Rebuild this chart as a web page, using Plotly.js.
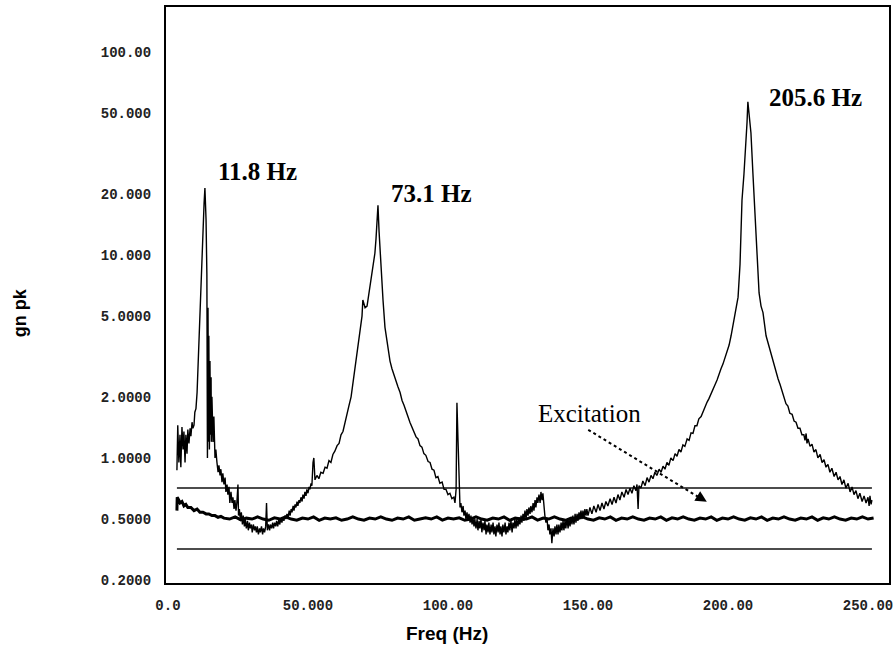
<!DOCTYPE html>
<html>
<head>
<meta charset="utf-8">
<script src="https://cdn.plot.ly/plotly-3.0.1.min.js"></script>
<style>html,body{margin:0;padding:0;background:#fff;}#chart{width:896px;height:646px;}</style>
</head>
<body>
<div id="chart"></div>
<script>
// Response spectrum, [freq Hz, g pk], read section by section
const respFirstMode = [[3.2,0.87],[3.5,1.45],[3.9,0.95],[4.3,1.3],[4.6,0.9],[5.0,1.42],[5.4,1.1],[5.7,1.35],[6.1,0.95],[6.4,1.3],[6.8,1.05],[7.1,1.38],[7.5,1.18],[7.9,1.4],[8.2,1.28],[8.6,1.5],[8.9,1.4],[9.3,1.45],[9.6,1.68],[10.0,1.75],[10.4,2.1],[10.7,2.8],[11.1,3.5],[11.4,5.0],[11.8,6.5],[12.1,9.0],[12.5,12.5],[12.9,18.0],[13.2,21.4],[13.6,15.0],[13.9,8.0],[14.1,1.0],[14.3,5.5],[14.5,1.2],[14.6,4.0],[14.8,1.1],[15.0,3.0],[15.2,1.3],[15.4,2.5],[15.5,1.2],[15.7,2.0],[16.1,1.2],[16.4,1.6],[16.8,1.0],[17.1,1.1]];
const respLowBand = [[17.5,0.95],[17.9,0.85],[18.2,0.92],[18.6,0.82],[18.9,0.88],[19.3,0.76],[19.6,0.84],[20.0,0.74],[20.4,0.8],[20.7,0.68],[21.1,0.74],[21.4,0.66],[21.8,0.72],[22.1,0.6],[22.5,0.68],[22.9,0.6],[23.2,0.64],[23.6,0.56],[23.9,0.62],[24.3,0.55],[24.6,0.6],[25.0,0.74],[25.2,0.52],[25.5,0.56],[25.9,0.49],[26.2,0.54],[26.6,0.47],[26.9,0.52],[27.3,0.46],[27.6,0.5],[28.0,0.45],[28.4,0.49],[28.7,0.44],[29.1,0.48],[29.4,0.45],[29.8,0.47],[30.1,0.43],[30.5,0.47],[30.9,0.44],[31.2,0.46],[31.6,0.43],[31.9,0.46],[32.3,0.42],[32.7,0.45],[33.0,0.43],[33.4,0.46],[33.8,0.42],[34.1,0.45],[34.5,0.43],[34.9,0.46],[35.2,0.6],[35.5,0.44],[35.9,0.47],[36.3,0.44],[36.6,0.47],[37.0,0.45],[37.4,0.48],[37.7,0.45],[38.1,0.48],[38.5,0.46],[38.8,0.49],[39.2,0.46],[39.6,0.5],[39.9,0.47],[40.3,0.5],[40.7,0.48],[41.0,0.51],[41.4,0.49],[41.8,0.52],[42.1,0.5],[42.5,0.53],[42.9,0.51],[43.3,0.55],[43.6,0.52],[44.0,0.56],[44.3,0.54],[44.7,0.58],[45.0,0.55],[45.4,0.59],[45.7,0.57],[46.1,0.61],[46.4,0.58],[46.8,0.62],[47.1,0.6],[47.5,0.64],[47.9,0.61],[48.2,0.66],[48.6,0.63],[48.9,0.68],[49.3,0.65],[49.6,0.7],[50.0,0.67],[50.4,0.72],[50.7,0.7],[51.1,0.75],[51.4,0.73],[51.8,0.95],[52.1,1.0],[52.5,0.78]];
const respSecondMode = [[53.2,0.82],[53.9,0.79],[54.6,0.85],[55.4,0.84],[56.1,0.9],[56.8,0.89],[57.5,0.97],[58.2,0.95],[58.9,1.04],[59.6,1.08],[60.4,1.15],[61.1,1.18],[61.8,1.3],[62.5,1.35],[63.2,1.5],[63.9,1.62],[64.6,1.8],[65.4,2.0],[66.1,2.35],[66.8,2.8],[67.5,3.2],[67.9,3.5],[68.6,4.1],[69.3,5.0],[69.6,6.0],[70.0,5.8],[70.4,5.5],[71.1,5.6],[71.8,6.5],[72.5,7.2],[73.2,8.5],[73.9,10.2],[74.3,12],[74.6,14.5],[75.0,17.6],[75.4,13],[75.7,10.6],[76.1,8.5],[76.8,6.0],[77.5,4.4],[78.6,3.4],[79.3,3.0],[80.0,2.75],[80.7,2.55],[81.4,2.4],[82.1,2.25],[82.9,2.1],[83.6,1.92],[84.3,1.82],[85.0,1.68],[85.7,1.6],[86.4,1.5],[87.1,1.42],[87.9,1.35],[88.6,1.27],[89.3,1.24],[90.0,1.15],[90.7,1.13],[91.4,1.05],[92.1,1.03],[92.9,0.96],[93.6,0.95],[94.3,0.88],[95.0,0.87],[95.7,0.8],[96.4,0.81],[97.1,0.75],[97.9,0.76],[98.6,0.7],[99.3,0.7],[100.0,0.66],[100.7,0.67],[101.4,0.63],[102.1,0.64],[102.5,0.6],[102.9,0.7],[103.2,1.87],[103.6,1.2],[103.9,0.75],[104.3,0.57]];
const respMidBand = [[104.6,0.6],[105.0,0.54],[105.4,0.58],[105.7,0.52],[106.1,0.55],[106.4,0.5],[106.8,0.54],[107.1,0.49],[107.5,0.53],[107.9,0.48],[108.2,0.52],[108.6,0.47],[108.9,0.51],[109.3,0.46],[109.6,0.5],[110.0,0.45],[110.4,0.5],[110.7,0.44],[111.1,0.49],[111.4,0.45],[111.8,0.5],[112.1,0.43],[112.5,0.48],[112.9,0.44],[113.2,0.49],[113.6,0.42],[113.9,0.47],[114.3,0.43],[114.6,0.48],[115.0,0.42],[115.4,0.47],[115.7,0.43],[116.1,0.48],[116.4,0.42],[116.8,0.46],[117.1,0.41],[117.5,0.47],[117.9,0.43],[118.2,0.48],[118.6,0.42],[118.9,0.46],[119.3,0.41],[119.6,0.47],[120.0,0.43],[120.4,0.48],[120.7,0.42],[121.1,0.46],[121.4,0.43],[121.8,0.48],[122.1,0.44],[122.5,0.49],[122.9,0.43],[123.2,0.48],[123.6,0.45],[123.9,0.5],[124.3,0.45],[124.6,0.5],[125.0,0.46],[125.4,0.51],[125.7,0.47],[126.1,0.52],[126.4,0.48],[126.8,0.53],[127.1,0.49],[127.5,0.55],[127.9,0.5],[128.2,0.56],[128.6,0.52],[128.9,0.57],[129.3,0.53],[129.6,0.58],[130.0,0.54],[130.4,0.6],[130.7,0.55],[131.1,0.62],[131.4,0.57],[131.8,0.64],[132.1,0.6],[132.5,0.66],[132.9,0.6],[133.2,0.68],[133.6,0.62],[133.9,0.67],[134.3,0.55],[134.6,0.52],[135.0,0.48],[135.4,0.5],[135.7,0.44],[136.1,0.47],[136.4,0.42],[136.8,0.45],[137.1,0.38],[137.5,0.45],[137.9,0.41],[138.2,0.46],[138.6,0.42],[138.9,0.47],[139.3,0.42],[139.6,0.47],[140.0,0.43],[140.4,0.48],[140.7,0.44],[141.1,0.49],[141.4,0.44],[141.8,0.49],[142.1,0.45],[142.5,0.5],[142.9,0.45],[143.2,0.5],[143.6,0.46],[143.9,0.51],[144.3,0.47],[144.6,0.52],[145.0,0.47],[145.4,0.53],[145.7,0.48],[146.1,0.53],[146.4,0.49],[146.8,0.54],[147.1,0.5],[147.5,0.55],[147.9,0.5],[148.2,0.55],[148.6,0.51],[148.9,0.56],[149.3,0.52],[149.6,0.56],[150.0,0.52]];
const respThirdMode = [[150.7,0.57],[151.4,0.53],[152.1,0.58],[152.9,0.54],[153.6,0.59],[154.3,0.55],[155.0,0.6],[155.7,0.56],[156.4,0.61],[157.1,0.58],[157.9,0.63],[158.6,0.59],[159.3,0.64],[160.0,0.6],[160.7,0.66],[161.4,0.62],[162.1,0.68],[162.9,0.64],[163.6,0.7],[164.3,0.66],[165.0,0.71],[165.7,0.67],[166.4,0.73],[167.1,0.69],[167.5,0.74],[167.9,0.56],[168.2,0.73],[168.9,0.71],[169.6,0.77],[170.4,0.73],[171.1,0.8],[171.8,0.76],[172.5,0.82],[173.2,0.79],[173.9,0.85],[174.6,0.82],[175.4,0.88],[176.1,0.85],[176.8,0.91],[177.5,0.88],[178.2,0.95],[178.9,0.92],[179.6,1.0],[180.4,0.97],[181.1,1.05],[181.8,1.02],[182.5,1.1],[183.2,1.07],[183.9,1.16],[184.6,1.14],[185.4,1.24],[186.1,1.22],[186.8,1.33],[187.5,1.32],[188.2,1.44],[188.9,1.44],[189.6,1.56],[190.4,1.6],[191.1,1.7],[191.8,1.78],[192.5,1.88],[193.2,1.96],[193.9,2.05],[194.6,2.15],[195.4,2.3],[196.1,2.42],[196.8,2.6],[197.5,2.75],[198.2,2.9],[198.9,3.1],[199.6,3.3],[200.4,3.6],[201.1,4.0],[201.8,4.5],[202.5,5.2],[203.2,5.8],[203.6,6.2],[204.3,9],[205.0,18.6],[205.7,25],[206.4,35],[206.8,45],[207.1,56.9],[207.5,48],[208.2,39.9],[208.9,25.3],[209.6,17.2],[210.4,11],[211.1,6.5],[211.8,5.6],[212.5,5.2],[213.6,4.0],[215.0,3.4]];
const respHighBand = [[215.7,3.1],[216.4,2.85],[217.1,2.7],[217.9,2.45],[218.6,2.3],[219.3,2.12],[220.0,2.0],[220.7,1.85],[221.4,1.8],[222.1,1.66],[222.9,1.64],[223.6,1.52],[224.3,1.5],[225.0,1.4],[225.7,1.4],[226.4,1.3],[227.1,1.3],[227.5,1.22],[227.9,1.32],[228.2,1.18],[228.6,1.24],[229.3,1.14],[230.0,1.17],[230.7,1.07],[231.4,1.1],[232.1,1.0],[232.9,1.04],[233.6,0.95],[234.3,0.98],[235.0,0.9],[235.7,0.93],[236.4,0.85],[237.1,0.89],[237.9,0.81],[238.6,0.85],[239.3,0.78],[240.0,0.81],[240.7,0.74],[241.4,0.78],[242.1,0.71],[242.9,0.75],[243.6,0.68],[244.3,0.72],[245.0,0.66],[245.7,0.69],[246.4,0.63],[247.1,0.67],[247.9,0.61],[248.6,0.65],[249.3,0.6],[250.0,0.64],[250.4,0.58],[250.7,0.65],[251.1,0.59],[251.4,0.62]];

// Excitation spectrum
const exFreq = [3.2,3.3,3.6,4.3,5.0,5.7,6.4,7.1,8.2,9.3,10.4,11.4,12.5,13.6,14.6,15.7,16.8,17.9,18.9,20.0,22,24,26,28,30,32,34,36,38,40,42,44,46,48,50,52,54,56,58,60,62,64,66,68,70,72,74,76,78,80,82,84,86,88,90,92,94,96,98,100,102,104,106,108,110,112,114,116,118,120,122,124,126,128,130,132,134,136,138,140,142,144,146,148,150,152,154,156,158,160,162,164,166,168,170,172,174,176,178,180,182,184,186,188,190,192,194,196,198,200,202,204,206,208,210,212,214,216,218,220,222,224,226,228,230,232,234,236,238,240,242,244,246,248,250,252];
const exAmp = [0.55,0.64,0.63,0.6,0.61,0.58,0.59,0.57,0.57,0.55,0.56,0.54,0.54,0.53,0.53,0.52,0.52,0.51,0.515,0.505,
0.5,0.512,0.495,0.505,0.5,0.512,0.5,0.493,0.507,0.5,
0.512,0.5,0.494,0.506,0.5,0.512,0.493,0.506,0.5,0.507,
0.493,0.5,0.512,0.5,0.494,0.506,0.5,0.512,0.5,0.493,
0.506,0.5,0.512,0.493,0.5,0.507,0.5,0.512,0.494,0.506,
0.5,0.507,0.493,0.5,0.512,0.5,0.494,0.506,0.5,0.512,
0.493,0.506,0.5,0.5,0.512,0.494,0.506,0.5,0.512,0.5,
0.493,0.506,0.5,0.512,0.5,0.494,0.507,0.5,0.512,0.493,
0.506,0.5,0.512,0.5,0.494,0.506,0.5,0.512,0.493,0.507,
0.5,0.512,0.5,0.494,0.506,0.5,0.512,0.493,0.506,0.5,
0.512,0.5,0.494,0.507,0.5,0.512,0.493,0.506,0.5,0.512,
0.5,0.494,0.506,0.5,0.512,0.493,0.507,0.5,0.512,0.5,
0.494,0.506,0.5,0.512,0.5,0.506];

// Alarm limit lines
const limitFreq = [3.2, 251.4];
const upperLimit = [0.711, 0.711];
const lowerLimit = [0.356, 0.356];

// Axis ticks
const xTickVals = [0, 50, 100, 150, 200, 250];
const xTickText = ["0.0", "50.000", "100.00", "150.00", "200.00", "250.00"];
const yTickVals = [0.25, 0.5, 1, 2, 5, 10, 20, 50, 100];
const yTickText = ["0.2000", "0.5000", "1.0000", "2.0000", "5.0000", "10.000", "20.000", "50.000", "100.00"];

// Peak labels
const peakLabels = ["11.8 Hz", "73.1 Hz", "205.6 Hz"];

const respAll = [].concat(respFirstMode, respLowBand, respSecondMode, respMidBand, respThirdMode, respHighBand);
const respFreq = respAll.map(p => p[0]);
const respAmp = respAll.map(p => p[1]);

const tickFont = {family: "Liberation Mono, DejaVu Sans Mono, monospace", size: 14, color: "#222", weight: "bold"};
const traces = [
  {x: limitFreq, y: upperLimit, mode: "lines", line: {color: "#111", width: 1.3}, hoverinfo: "skip"},
  {x: limitFreq, y: lowerLimit, mode: "lines", line: {color: "#111", width: 1.3}, hoverinfo: "skip"},
  {x: exFreq, y: exAmp, mode: "lines", line: {color: "#000", width: 3}},
  {x: respFreq, y: respAmp, mode: "lines", line: {color: "#000", width: 1.4}}
];

const serifB = {family: "Liberation Serif, Times New Roman, serif", size: 25, color: "#000"};
const layout = {
  width: 896, height: 646,
  margin: {l: 166, r: 7, t: 7, b: 63},
  paper_bgcolor: "#fff", plot_bgcolor: "#fff",
  showlegend: false,
  xaxis: {
    range: [-0.7, 257.5], showgrid: false, zeroline: false,
    showline: true, mirror: true, linecolor: "#000", linewidth: 2,
    ticks: "", tickvals: xTickVals, ticktext: xTickText, tickfont: tickFont,
    ticklabelstandoff: 8
  },
  yaxis: {
    type: "log", range: [Math.log10(0.242), Math.log10(166.7)],
    showgrid: false, zeroline: false,
    showline: true, mirror: true, linecolor: "#000", linewidth: 2,
    ticks: "", tickvals: yTickVals, ticktext: yTickText, tickfont: tickFont,
    ticklabelstandoff: 10
  },
  shapes: [
    {type: "line", xref: "paper", yref: "paper", x0: 0.584, y0: 0.266, x1: 0.742, y1: 0.145,
     line: {color: "#000", width: 2, dash: "dot"}}
  ],
  annotations: [
    {xref: "paper", yref: "paper", x: 0.126, y: 0.715, xanchor: "center", yanchor: "middle",
     text: "<b>" + peakLabels[0] + "</b>", showarrow: false, font: serifB},
    {xref: "paper", yref: "paper", x: 0.367, y: 0.677, xanchor: "center", yanchor: "middle",
     text: "<b>" + peakLabels[1] + "</b>", showarrow: false, font: serifB},
    {xref: "paper", yref: "paper", x: 0.898, y: 0.843, xanchor: "center", yanchor: "middle",
     text: "<b>" + peakLabels[2] + "</b>", showarrow: false, font: serifB},
    {xref: "paper", yref: "paper", x: 0.586, y: 0.295, xanchor: "center", yanchor: "middle",
     text: "Excitation", showarrow: false,
     font: {family: "Liberation Serif, Times New Roman, serif", size: 25, color: "#000"}},
    {xref: "paper", yref: "paper", x: 0.748, y: 0.141, text: "", showarrow: true,
     ax: -9, ay: -5.5, arrowhead: 2, arrowsize: 1.4, arrowwidth: 1.6, arrowcolor: "#000", standoff: 0},
    {xref: "paper", yref: "paper", x: 0.389, y: -0.087, xanchor: "center", yanchor: "middle",
     text: "<b>Freq (Hz)</b>", showarrow: false,
     font: {family: "Liberation Sans Narrow, Liberation Sans, Arial, sans-serif", size: 19, color: "#000"}},
    {xref: "paper", yref: "paper", x: -0.202, y: 0.47, xanchor: "center", yanchor: "middle",
     text: "<b>gn pk</b>", showarrow: false, textangle: -90,
     font: {family: "Liberation Sans, Arial, sans-serif", size: 18, color: "#000"}}
  ]
};

Plotly.newPlot("chart", traces, layout, {displayModeBar: false, staticPlot: true});
</script>
</body>
</html>
